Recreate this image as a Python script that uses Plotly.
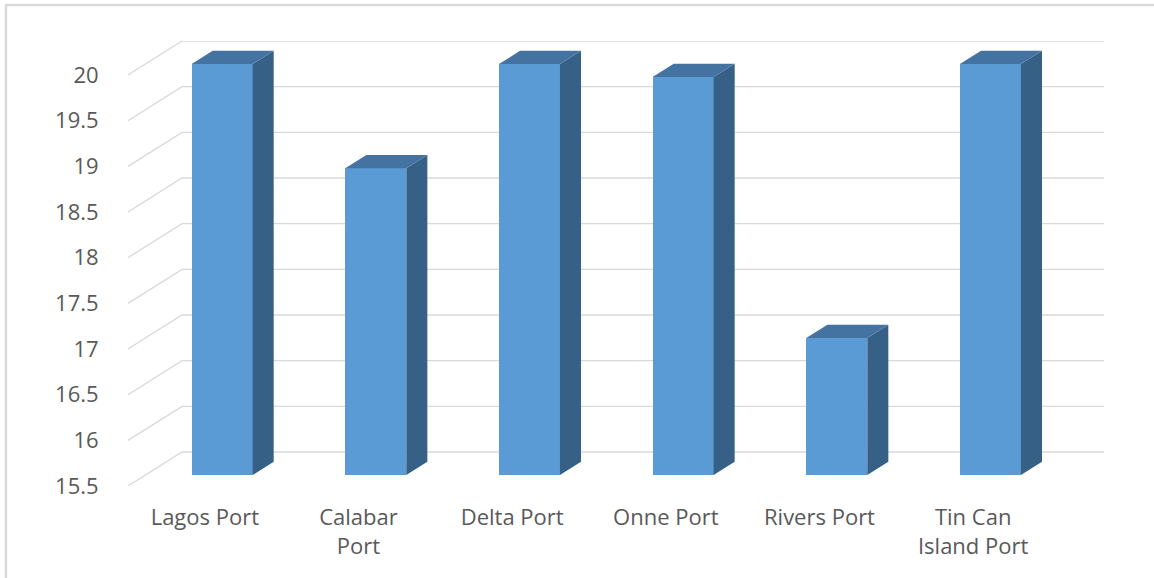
import plotly.graph_objects as go

# ---- data ----
categories = ["Lagos Port", "Calabar<br>Port", "Delta Port", "Onne Port", "Rivers Port", "Tin Can<br>Island Port"]
values = [20.0, 18.86, 20.0, 19.86, 17.0, 20.0]
y_ticks = [15.5, 16, 16.5, 17, 17.5, 18, 18.5, 19, 19.5, 20]
y_tick_labels = ["15.5", "16", "16.5", "17", "17.5", "18", "18.5", "19", "19.5", "20"]

# ---- 3D geometry (in data units) ----
Y0 = 15.5
DX, DY = 0.3516, 0.3723     # full depth offset of the back wall
F_FRONT, F_BACK = 0.32, 0.71  # depth fraction of bar front / back faces
BAR_W = 0.397

FRONT = "#5B9BD5"
SIDE = "#376087"
TOP = "#4473A1"
GRID = "#D9D9D9"
TXT = "#595959"

W, H = 1154, 578
L, T, B = 128, 41, 92
n = len(categories)
xr = [0, n + DX]
yr = [Y0, y_ticks[-1] + DY]
plot_w_px = (n + DX) * 153.6
R = W - L - plot_w_px

fig = go.Figure()

# gridlines (floor/side wall slant + back wall)
shapes = []
for v in y_ticks:
    path = f"M 0,{v} L {DX},{v + DY} L {n + DX},{v + DY}"
    shapes.append(dict(type="path", path=path, xref="x", yref="y",
                       line=dict(color=GRID, width=1.3), layer="below"))

# chart border
px = lambda p: (p - L) / plot_w_px
py = lambda p: (H - B - p) / (H - T - B)
shapes.append(dict(type="rect", xref="paper", yref="paper",
                   x0=px(6), x1=px(1170), y0=py(5), y1=py(600),
                   line=dict(color="#D9D9D9", width=2.5), layer="below"))

fx, fy = F_FRONT * DX, F_FRONT * DY
bx, by = (F_BACK - F_FRONT) * DX, (F_BACK - F_FRONT) * DY
centers = [i + 0.5 + fx for i in range(n)]
base = Y0 + fy

# front faces
fig.add_trace(go.Bar(x=centers, y=[v - Y0 for v in values], base=base,
                     width=BAR_W, marker=dict(color=FRONT, line=dict(width=0)),
                     hoverinfo="skip", showlegend=False))

# side and top faces
for c, v in zip(centers, values):
    xl, xrr = c - BAR_W / 2, c + BAR_W / 2
    top = v + fy
    fig.add_trace(go.Scatter(
        x=[xrr, xrr + bx, xrr + bx, xrr, xrr],
        y=[base, base + by, top + by, top, base],
        fill="toself", fillcolor=SIDE, mode="lines", line=dict(width=0, color=SIDE),
        hoverinfo="skip", showlegend=False))
    fig.add_trace(go.Scatter(
        x=[xl, xl + bx, xrr + bx, xrr, xl],
        y=[top, top + by, top + by, top, top],
        fill="toself", fillcolor=TOP, mode="lines", line=dict(width=0, color=TOP),
        hoverinfo="skip", showlegend=False))

fig.update_layout(
    width=W, height=H,
    margin=dict(l=L, r=R, t=T, b=B, pad=0),
    paper_bgcolor="white", plot_bgcolor="white",
    shapes=shapes,
    font=dict(family="Open Sans", size=22, color=TXT),
    bargap=0,
    xaxis=dict(range=xr, tickvals=[i + 0.5 for i in range(n)], ticktext=categories,
               showgrid=False, zeroline=False, showline=False,
               ticks="outside", ticklen=12, tickcolor="rgba(0,0,0,0)",
               tickfont=dict(family="Open Sans", size=22, color=TXT), fixedrange=True),
    yaxis=dict(range=yr, tickvals=y_ticks, ticktext=y_tick_labels,
               showgrid=False, zeroline=False, showline=False,
               ticks="outside", ticklen=24, tickcolor="rgba(0,0,0,0)",
               tickfont=dict(family="Open Sans", size=22, color=TXT), fixedrange=True),
)

fig.write_html("out.html")
